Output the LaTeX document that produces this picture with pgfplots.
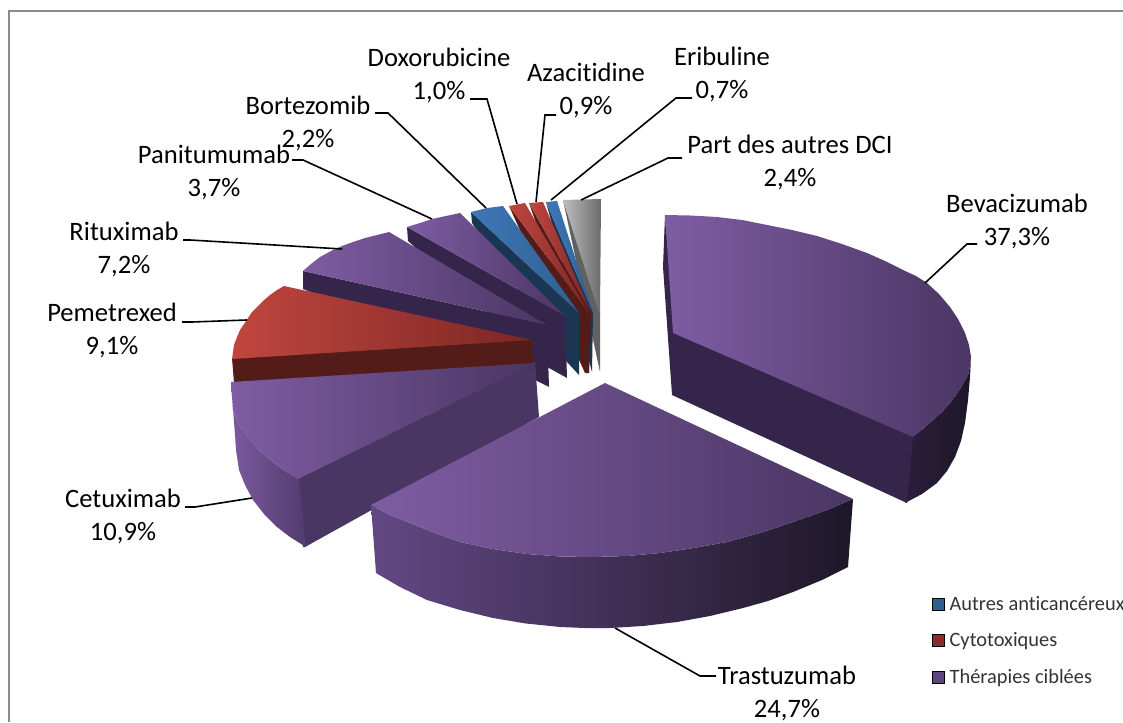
\documentclass[border=0pt]{standalone}
\usepackage{pgfplots}
\pgfplotsset{compat=1.18}
\usepackage{fontspec}
\setmainfont[Ligatures=NoCommon]{Carlito}
\definecolor{vL}{HTML}{7F5CA3}
\definecolor{vM}{HTML}{5F4680}
\definecolor{vD}{HTML}{4A3663}
\definecolor{vW}{HTML}{35254A}
\definecolor{vX}{HTML}{1E1728}
\definecolor{rL}{HTML}{C0463F}
\definecolor{rD}{HTML}{7D2623}
\definecolor{rW}{HTML}{541C18}
\definecolor{bL}{HTML}{3F78B8}
\definecolor{bD}{HTML}{2F5F8F}
\definecolor{bW}{HTML}{1B3653}
\tikzset{lead/.style={black,line width=1.6pt,line join=miter}}
\begin{document}
\begin{tikzpicture}
\useasboundingbox (0,0) rectangle (1123pt,722pt);
\begin{axis}[at={(0,0)},anchor=south west,scale only axis,width=1123pt,height=722pt,
  xmin=0,xmax=1123,ymin=0,ymax=722,y dir=reverse,axis lines=none,clip=false,
  legend image code/.code={\fill[#1] (0pt,-6pt) rectangle (12pt,6pt);\path (16pt,0pt);},
  legend cell align=left,
  legend style={at={(axis cs:929,593)},anchor=north west,draw=none,fill=none,
    font=\fontsize{20.4}{22}\selectfont\color{black!80},row sep=19pt,
    nodes={inner sep=1pt}}]
\addlegendimage{fill=bD}\addlegendentry{Autres anticancéreux}
\addlegendimage{fill=rD!80!rL}\addlegendentry{Cytotoxiques}
\addlegendimage{fill=vM}\addlegendentry{Thérapies ciblées}
% frame
\addplot[gray!90,line width=1.5pt] coordinates {(9,722)(9,11)(1123,11)};
% Bevacizumab
\addplot[fill=vW,draw=none] coordinates {(665,215)(676,333)(672,395)(663,267)};
\addplot[draw=none,left color=vW!80!black,right color=vX] coordinates {(971,357)(970,366)(968,375)(960,389)(950,403)(942,412)(933,420)(923,429)(911,437)(905,503)(922,494)(937,483)(947,471)(955,457)(961,441)(965,423)(968,400)(970,377)};
\addplot[fill=vW,draw=none] coordinates {(673,331)(913,435)(913,437)(907,503)(672,395)};
\addplot[draw=none,left color=vL,right color=vD] coordinates {(673,333)(665,215)(690,215.5)(717,217)(742,220)(767,225)(792,230)(817,236)(842,244)(867,253)(885,261)(903,270)(916,276)(927,283)(939,294)(950,307)(958,319)(965,333)(969,345)(971,357)(970,366)(968,375)(960,389)(950,403)(942,412)(933,420)(923,429)(913,437)};
% Part des autres DCI
\addplot[fill=black!62,draw=none] coordinates {(563,200)(600,312)(600,372)};
\addplot[draw=none,left color=black!25,right color=black!58] coordinates {(563,200)(601,199)(600,313)(599,313)};
% Eribuline
\addplot[fill=bW,draw=none] coordinates {(546,202)(593,313)(592,372)};
\addplot[draw=none,left color=bL,right color=bD] coordinates {(546,202)(557,201)(593,313)};
% Azacitidine
\addplot[fill=rW,draw=none] coordinates {(529,203)(591,313)(589,373)};
\addplot[draw=none,left color=rL,right color=rD] coordinates {(529,203)(543,202)(591,313)};
% Doxorubicine
\addplot[fill=rW,draw=none] coordinates {(509,206)(589,313)(589,373)(585,373)};
\addplot[draw=none,left color=rL,right color=rD] coordinates {(509,206)(525,203)(589,313)};
% Bortezomib
\addplot[fill=bW,draw=none] coordinates {(471,212)(579,313)(579,375)(567,362)(472,223)};
\addplot[draw=none,left color=bL,right color=bD] coordinates {(471,212)(487,208)(503,206)(579,313)};
% Panitumumab
\addplot[fill=vW,draw=none] coordinates {(407,227)(565,316)(567,378)(549,368)(408,241)};
\addplot[draw=none,left color=vL,right color=vD] coordinates {(407,227)(420,223)(432,219)(446,216)(460,213)(565,316)};
% Rituximab
\addplot[fill=vW,draw=none] coordinates {(303,271)(547,325)(549,387)(535,380)(303,289)};
\addplot[draw=none,left color=vL,right color=vD] coordinates {(303,271)(311,264)(320,257)(331,251)(342,246)(353,242)(365,238)(377,235)(389,232)(547,325)};
% Pemetrexed
\addplot[fill=rW,draw=none] coordinates {(232,358)(532,339)(533,365)(234,383)};
\addplot[draw=none,left color=rL,right color=rD] coordinates {(532,340)(232,359)(233,352)(234,345)(237,337)(240,330)(244,324)(248,318)(252,312)(257,307)(263,301)(270,295)(277,290)(284,286)};
% Cetuximab
\addplot[fill=vD,draw=none] coordinates {(296,478)(535,362)(539,417)(305,547)(303,547)};
\addplot[draw=none,left color=vL!90!vM,right color=vM!85!black] coordinates {(231,382)(232,396)(233,410)(240,426)(250,440)(261,452)(273,462)(285,471)(299,479)(306,547)(290,537)(277,527)(264,514)(253,500)(245,485)(239,470)(236,450)(235,435)};
\addplot[draw=none,left color=vL,right color=vD] coordinates {(535,363)(231,382)(232,396)(233,410)(240,426)(250,440)(261,452)(273,462)(285,471)(298,479)};
% Trastuzumab
\addplot[draw=none,left color=vM!90!vL,right color=vX] coordinates {(371,505)(390,515)(410,523)(435,533)(460,542)(493,549)(527,554)(560,556.5)(593,557)(627,556)(660,553)(694,548)(727,542)(760,533)(793,522)(810,516)(827,510)(853,499)(848,567)(822,580)(793,592)(768,601)(743,608)(710,616)(677,622)(643,626)(610,628)(585,628)(560,627)(526,623.5)(493,618)(460,610)(427,600)(400,587)(376,573)};
\addplot[draw=none,left color=vL,right color=vD] coordinates {(605,383)(371,505)(390,515)(410,523)(435,533)(460,542)(493,549)(527,554)(560,556.5)(593,557)(627,556)(660,553)(694,548)(727,542)(760,533)(793,522)(810,516)(827,510)(853,499)};
% leaders
\addplot[lead] coordinates {(925,283)(967,244)(977,244)};
\addplot[lead] coordinates {(581,200)(668,158)(682,158)};
\addplot[lead] coordinates {(551,200)(676,98)(692,98)};
\addplot[lead] coordinates {(536,202)(545,115)(556,115)};
\addplot[lead] coordinates {(517,204)(487,99)(470,99)};
\addplot[lead] coordinates {(486,208)(388,113)(375,113)};
\addplot[lead] coordinates {(432,219)(303,160)(292,160)};
\addplot[lead] coordinates {(342,249)(190,240)(183,240)};
\addplot[lead] coordinates {(247,320)(192,322)(182,322)};
\addplot[lead] coordinates {(252,498)(195,507)(185,507)};
\addplot[lead] coordinates {(615,628)(700,676)(716,676)};
% labels
\tikzset{lab/.style={align=center,inner sep=0pt,font=\fontsize{26.6}{33}\selectfont,text=black,anchor=center}}
\node[lab] at (axis cs:439,75) {Doxorubicine\\1,0\%};
\node[lab] at (axis cs:586,90) {Azacitidine\\0,9\%};
\node[lab] at (axis cs:722,74) {Eribuline\\0,7\%};
\node[lab] at (axis cs:790,162) {Part des autres DCI\\2,4\%};
\node[lab] at (axis cs:1017,221) {Bevacizumab\\37,3\%};
\node[lab] at (axis cs:308,123) {Bortezomib\\2,2\%};
\node[lab] at (axis cs:214,172) {Panitumumab\\3,7\%};
\node[lab] at (axis cs:124,249) {Rituximab\\7,2\%};
\node[lab] at (axis cs:112,330) {Pemetrexed\\9,1\%};
\node[lab] at (axis cs:123,516) {Cetuximab\\10,9\%};
\node[lab] at (axis cs:787,693) {Trastuzumab\\24,7\%};
\end{axis}
\end{tikzpicture}
\end{document}
